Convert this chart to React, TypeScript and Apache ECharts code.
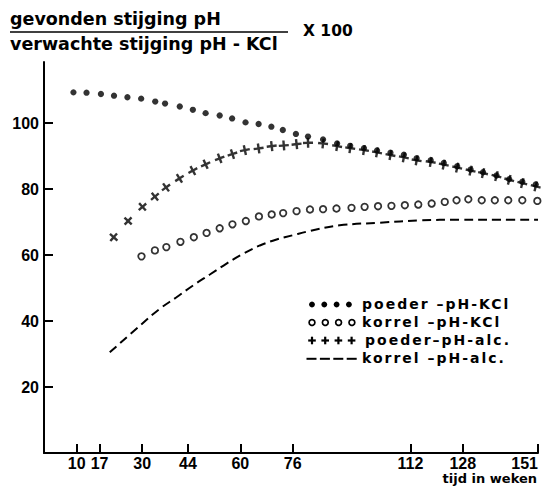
import React, { useEffect, useRef } from 'react';
import * as echarts from 'echarts';

// Axis ticks
const xTicks = [10, 17, 30, 44, 60, 76, 112, 128, 151];
const yTicks = [20, 40, 60, 80, 100];

// poeder - pH-KCl (filled dots)
const poederKclWeeks = [9, 13, 17.4, 21.4, 25.5, 29.7, 34, 37, 41.5, 45.5, 49.4, 53.7, 57.5, 61.6, 65.6, 69.5, 73, 77, 80.7, 85.3, 89.6, 93.6, 97.8, 101.8, 105.9, 110, 113.9, 118.2, 122.2, 126.3, 130.4, 134.2, 138.3, 142.2, 146.2, 150.3];
const poederKclValues = [109.3, 109.2, 108.8, 108.3, 107.8, 107.4, 106.5, 105.9, 105.0, 104.0, 103.0, 102.3, 101.4, 100.2, 99.7, 98.9, 97.9, 96.7, 95.9, 95.0, 93.8, 93.1, 92.4, 91.7, 91.0, 90.4, 89.3, 88.7, 87.9, 86.9, 85.9, 85.1, 84.1, 83.0, 82.2, 81.4];

// korrel - pH-KCl (open circles)
const korrelKclWeeks = [29.8, 33.9, 37.4, 41.7, 45.8, 49.7, 53.7, 57.6, 61.7, 65.7, 69.6, 73.1, 77.2, 81.3, 85.3, 89.4, 94, 98, 102.1, 106.2, 110.3, 114.4, 118.5, 122.5, 126.1, 129.7, 133.8, 137.8, 141.9, 146.2, 150.8];
const korrelKclValues = [59.6, 61.4, 62.4, 64.0, 65.4, 66.7, 68.1, 69.3, 70.3, 71.7, 72.3, 72.7, 73.3, 73.8, 73.9, 74.1, 74.3, 74.6, 74.8, 74.9, 75.1, 75.3, 75.6, 76.1, 76.6, 76.9, 76.6, 76.6, 76.6, 76.6, 76.4];

// poeder - pH-alc. (plus signs)
const poederAlcWeeks = [21.3, 25.7, 30.1, 33.9, 37.3, 41.4, 45.5, 49.4, 53.7, 57.6, 61.4, 65.6, 69.6, 73.3, 77.2, 80.7, 85.3, 89.6, 93.6, 97.8, 101.8, 105.9, 110, 113.9, 118.2, 122.2, 126.3, 130.4, 134.2, 138.3, 142.2, 146.2, 150.3];
const poederAlcValues = [65.4, 70.3, 74.6, 77.7, 80.5, 83.2, 85.6, 87.5, 89.3, 90.6, 91.8, 92.3, 93.0, 93.2, 93.6, 94.0, 93.8, 93.0, 92.4, 91.8, 91.1, 90.3, 89.6, 88.7, 88.2, 87.4, 86.5, 85.6, 84.8, 83.9, 82.8, 81.8, 80.8];

// korrel - pH-alc. (dashed line)
const korrelAlcWeeks = [20.1, 29.3, 35.4, 40.5, 45.6, 50.7, 55.8, 60.9, 66.0, 71.1, 76.1, 81.3, 90.4, 102.7, 114.9, 127.1, 139.4, 151];
const korrelAlcValues = [30.5, 38.6, 43.7, 47.2, 50.8, 54.1, 57.4, 60.4, 62.9, 64.7, 66.0, 67.3, 69.0, 69.8, 70.5, 70.7, 70.7, 70.7];

const titleTop = 'gevonden stijging pH';
const titleBottom = 'verwachte stijging pH - KCl';
const titleFactor = 'X 100';
const xAxisName = 'tijd in weken';
const legendLabels = ['poeder –pH-KCl', 'korrel –pH-KCl', 'poeder–pH-alc.', 'korrel –pH-alc.'];

const pairs = (xs: number[], ys: number[]) => xs.map((x, i) => [x, ys[i]]);

const PLUS = 'path://M3.8,0H6.2V3.8H10V6.2H6.2V10H3.8V6.2H0V3.8H3.8Z';

export default function App() {
  const ref = useRef<HTMLDivElement>(null);

  useEffect(() => {
    if (!ref.current) return;
    const chart = echarts.init(ref.current, null, { renderer: 'svg' });

    const plusData = poederAlcWeeks.map((x, i) => {
      const a = Math.max(0, i - 1);
      const b = Math.min(poederAlcWeeks.length - 1, i + 1);
      const dx = (poederAlcWeeks[b] - poederAlcWeeks[a]) * 3.27;
      const dy = (poederAlcValues[b] - poederAlcValues[a]) * 3.29;
      const rot = (Math.atan2(dy, dx) * 180) / Math.PI;
      return { value: [x, poederAlcValues[i]], symbolRotate: rot };
    });

    const black = '#000';
    const tickFont = { color: black, fontFamily: 'Liberation Sans', fontWeight: 'bold' as const, fontSize: 16 };

    const legendGraphics: any[] = [];
    const rowY = [304.5, 322.5, 340.5, 358.8];
    const textX = [362, 362, 365, 362];
    for (let k = 0; k < 4; k++) {
      const cx0 = 312;
      for (let j = 0; j < 4; j++) {
        if (k === 0) {
          legendGraphics.push({ type: 'circle', shape: { cx: cx0 + j * 12.3, cy: rowY[0], r: 2.9 }, style: { fill: black } });
        } else if (k === 1) {
          legendGraphics.push({ type: 'circle', shape: { cx: cx0 + j * 13.3, cy: rowY[1], r: 2.9 }, style: { fill: '#fff', stroke: black, lineWidth: 1.7 } });
        } else if (k === 2) {
          const cx = cx0 + j * 13.2;
          legendGraphics.push({ type: 'line', shape: { x1: cx - 3.8, y1: rowY[2], x2: cx + 3.8, y2: rowY[2] }, style: { stroke: black, lineWidth: 2.2 } });
          legendGraphics.push({ type: 'line', shape: { x1: cx, y1: rowY[2] - 3.8, x2: cx, y2: rowY[2] + 3.8 }, style: { stroke: black, lineWidth: 2.2 } });
        } else {
          const x1 = 306.5 + j * 13.4;
          legendGraphics.push({ type: 'line', shape: { x1, y1: rowY[3], x2: x1 + 10, y2: rowY[3] }, style: { stroke: black, lineWidth: 2 } });
        }
      }
      legendGraphics.push({
        type: 'text', x: textX[k], y: rowY[k] - 1,
        style: { text: legendLabels[k], fill: black, fontFamily: 'DejaVu Sans', fontWeight: 'bold', fontSize: 14, align: 'left', verticalAlign: 'middle' },
      });
    }

    const option: any = {
      animation: false,
      backgroundColor: '#fff',
      grid: { left: 44, right: 11, top: 62, bottom: 37, containLabel: false, outerBoundsMode: 'none' },
      xAxis: {
        type: 'value', min: 0, max: 151,
        axisLine: { show: true, lineStyle: { color: black, width: 2 } },
        axisTick: { show: true, inside: true, length: 9, customValues: xTicks, lineStyle: { color: black, width: 2 } },
        axisLabel: { ...tickFont, margin: 2, customValues: xTicks, alignMaxLabel: 'right' },
        splitLine: { show: false },
      },
      yAxis: {
        type: 'value', min: 0, max: 118.5,
        axisLine: { show: true, lineStyle: { color: black, width: 2 } },
        axisTick: { show: true, inside: true, length: 9, customValues: yTicks, lineStyle: { color: black, width: 2 } },
        axisLabel: { ...tickFont, margin: 5, customValues: yTicks },
        splitLine: { show: false },
      },
      series: [
        {
          name: legendLabels[3], type: 'line', data: pairs(korrelAlcWeeks, korrelAlcValues), smooth: 0.4,
          showSymbol: false, symbol: 'none', lineStyle: { color: black, width: 2, type: [9, 5] }, z: 1,
        },
        {
          name: legendLabels[1], type: 'scatter', data: pairs(korrelKclWeeks, korrelKclValues), symbol: 'circle', symbolSize: 6.5,
          itemStyle: { color: '#fff', borderColor: black, borderWidth: 1.8 }, z: 2,
        },
        {
          name: legendLabels[2], type: 'scatter', data: plusData, symbol: PLUS, symbolSize: 10,
          itemStyle: { color: black }, z: 3,
        },
        {
          name: legendLabels[0], type: 'scatter', data: pairs(poederKclWeeks, poederKclValues), symbol: 'circle', symbolSize: 6.3,
          itemStyle: { color: black }, z: 4,
        },
      ],
      graphic: [
        { type: 'text', x: 10, y: 19, style: { text: titleTop, fill: black, fontFamily: 'DejaVu Sans', fontWeight: 'bold', fontSize: 17.5, align: 'left', verticalAlign: 'middle' } },
        { type: 'line', shape: { x1: 10, y1: 32, x2: 288, y2: 32 }, style: { stroke: black, lineWidth: 1.6 } },
        { type: 'text', x: 10, y: 43.5, style: { text: titleBottom, fill: black, fontFamily: 'DejaVu Sans', fontWeight: 'bold', fontSize: 17.5, align: 'left', verticalAlign: 'middle' } },
        { type: 'text', x: 303, y: 31, style: { text: titleFactor, fill: black, fontFamily: 'DejaVu Sans', fontWeight: 'bold', fontSize: 15.5, align: 'left', verticalAlign: 'middle' } },
        { type: 'text', x: 537, y: 478, style: { text: xAxisName, fill: black, fontFamily: 'DejaVu Sans', fontWeight: 'bold', fontSize: 13, align: 'right', verticalAlign: 'middle' } },
        ...legendGraphics,
      ],
    };

    chart.setOption(option);
    return () => chart.dispose();
  }, []);

  return (
    <>
      <style>{'.rs-chart text[style*="14px"]{letter-spacing:2px}'}</style>
      <div ref={ref} className="rs-chart" style={{ position: 'absolute', left: 0, top: 0, width: 549, height: 490, background: '#fff' }} />
    </>
  );
}
